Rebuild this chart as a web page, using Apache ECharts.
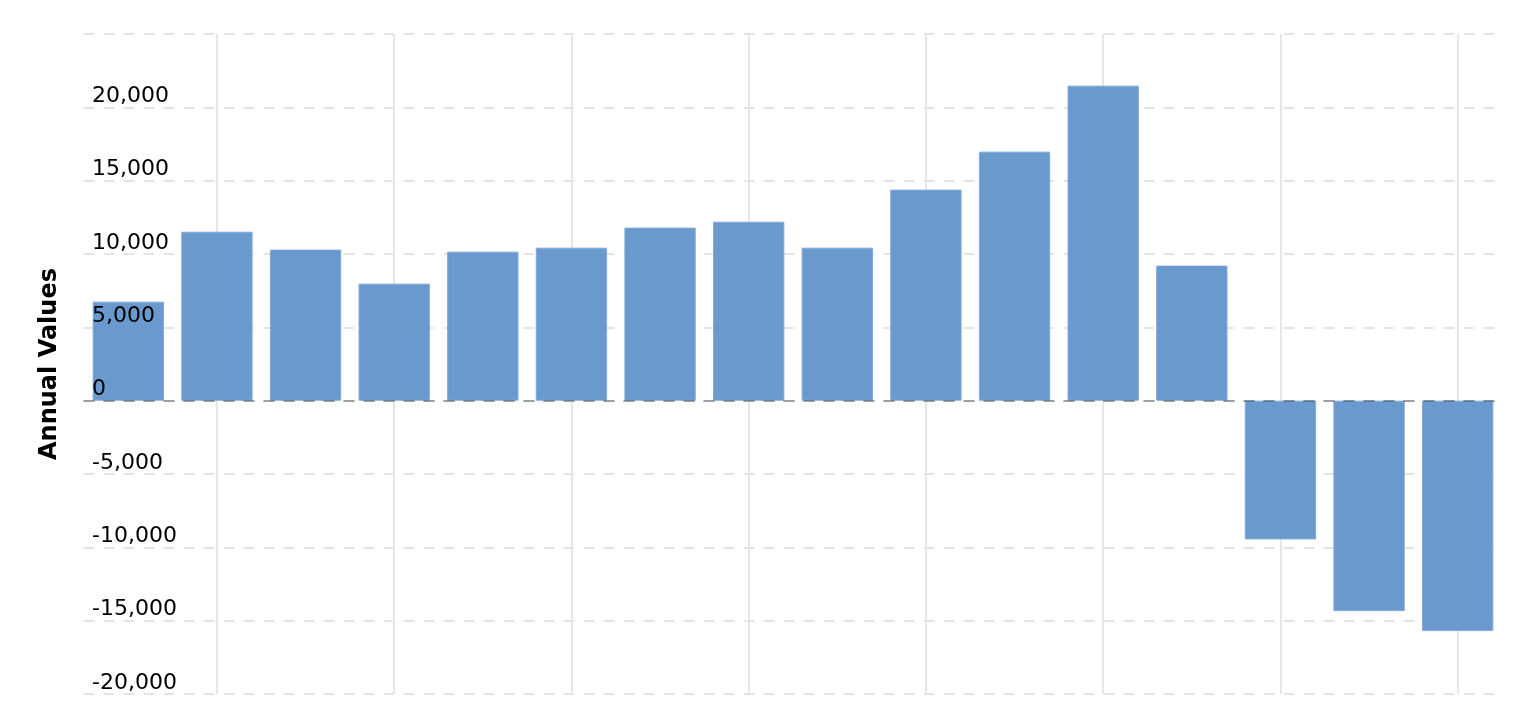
<!DOCTYPE html>
<html>
<head>
<meta charset="utf-8">
<script src="https://cdn.jsdelivr.net/npm/echarts@6/dist/echarts.min.js"></script>
<style>
  html, body { margin: 0; padding: 0; background: #fff; }
  #main { width: 1532px; height: 716px; }
</style>
</head>
<body>
<div id="main"></div>
<script>
  // yearly values (x labels are not visible in the source)
  var years = ['2009', '2010', '2011', '2012', '2013', '2014', '2015', '2016',
               '2017', '2018', '2019', '2020', '2021', '2022', '2023', '2024'];
  var annualValues = [6750, 11520, 10300, 7980, 10160, 10430, 11800, 12200,
                      10430, 14390, 16980, 21480, 9210, -9460, -14350, -15710];
  var yMin = -20000, yMax = 25000, yStep = 5000;

  var chart = echarts.init(document.getElementById('main'));

  var gridLine = { color: '#e4e4e4', width: 2, type: [10, 10] };

  var option = {
    animation: false,
    grid: { left: 84, right: 30, top: 34, bottom: 22, containLabel: false },
    xAxis: [{
      // grid lines only, drawn behind the bars
      type: 'category',
      data: years,
      z: 0,
      axisLine: { show: false },
      axisTick: { show: false },
      axisLabel: { show: false },
      splitLine: {
        show: true,
        alignWithLabel: true,
        interval: function (index) { return index % 2 === 1; },
        lineStyle: { color: '#e6e6e6', width: 2 }
      }
    }, {
      // zero line, drawn over the bars
      type: 'category',
      data: years,
      z: 5,
      axisLine: { show: true, onZero: true, lineStyle: { color: 'rgba(0,0,0,0.3)', width: 2, type: [10, 10] } },
      axisTick: { show: false },
      axisLabel: { show: false },
      splitLine: { show: false }
    }],
    yAxis: [{
      type: 'value',
      min: yMin, max: yMax, interval: yStep,
      z: 0,
      name: 'Annual Values',
      nameLocation: 'middle',
      nameGap: 22,
      nameTextStyle: { fontFamily: 'DejaVu Sans', fontWeight: 'bold', fontSize: 24, color: '#000' },
      axisLine: { show: false },
      axisTick: { show: false },
      axisLabel: { show: false },
      splitLine: { show: true, lineStyle: gridLine }
    }, {
      // tick labels, drawn over the bars
      type: 'value',
      position: 'left',
      min: yMin, max: yMax, interval: yStep,
      z: 6,
      axisLine: { show: false },
      axisTick: { show: false },
      splitLine: { show: false },
      axisLabel: {
        inside: true,
        margin: 8,
        verticalAlign: 'bottom',
        showMaxLabel: false,
        fontFamily: 'DejaVu Sans',
        fontSize: 22,
        color: '#000',
        formatter: function (v) { return echarts.format.addCommas(v); }
      }
    }],
    series: [{
      type: 'bar',
      xAxisIndex: 0,
      yAxisIndex: 0,
      data: annualValues,
      barWidth: '80.5%',
      itemStyle: { color: '#6a9acd', borderColor: '#7eaad8', borderWidth: 1 }
    }]
  };

  chart.setOption(option);
</script>
</body>
</html>
